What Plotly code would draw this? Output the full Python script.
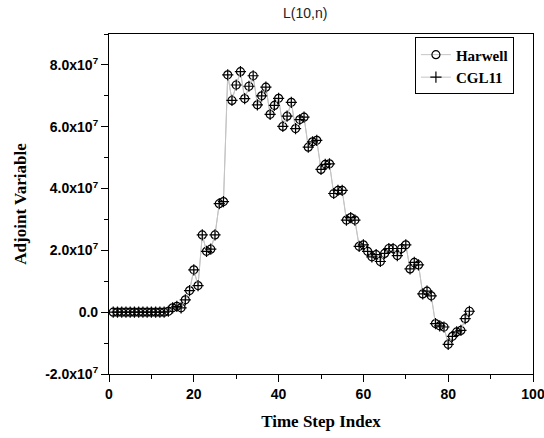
import plotly.graph_objects as go

steps = list(range(1, 86))
harwell = [0.0]*13 + [
    0.03, 0.14, 0.19, 0.14, 0.40, 0.70, 1.37, 0.86, 2.50, 1.97,
    2.04, 2.50, 3.51, 3.58, 7.68, 6.85, 7.35, 7.78, 6.91, 7.31,
    7.65, 6.71, 7.00, 7.28, 6.40, 6.69, 6.92, 6.01, 6.34, 6.79,
    5.94, 6.23, 6.31, 5.34, 5.51, 5.56, 4.62, 4.78, 4.80, 3.84,
    3.94, 3.94, 2.98, 3.06, 2.98, 2.13, 2.18, 1.97, 1.79, 1.86,
    1.64, 1.90, 2.06, 2.06, 1.83, 2.06, 2.18, 1.40, 1.61, 1.53,
    0.59, 0.68, 0.53, -0.37, -0.44, -0.48, -1.04, -0.78, -0.64, -0.59,
    -0.21, 0.03]
harwell = [v * 1e7 for v in harwell]
cgl11 = list(harwell)

ytickvals = [-2e7, 0, 2e7, 4e7, 6e7, 8e7]
yticktext = ["-2.0x10<sup>7</sup>", "0.0", "2.0x10<sup>7</sup>", "4.0x10<sup>7</sup>",
             "6.0x10<sup>7</sup>", "8.0x10<sup>7</sup>"]
xtickvals = [0, 20, 40, 60, 80, 100]

fig = go.Figure()
fig.add_trace(go.Scatter(
    x=steps, y=harwell, name="Harwell", mode="lines+markers",
    line=dict(color="#c4c4c4", width=1),
    marker=dict(symbol="circle-open", size=8, color="black", line=dict(width=1.2, color="black"))))
fig.add_trace(go.Scatter(
    x=steps, y=cgl11, name="CGL11", mode="lines+markers",
    line=dict(color="#c4c4c4", width=1),
    marker=dict(symbol="cross-thin-open", size=8, color="black", line=dict(width=1.2, color="black"))))

axis_common = dict(showline=True, linecolor="black", linewidth=1.2, mirror=True,
                   showgrid=False, zeroline=False, ticks="outside", ticklen=7,
                   tickcolor="black", tickwidth=1.2, automargin=False,
                   ticklabeloverflow="allow",
                   tickfont=dict(family="Liberation Sans", size=14, color="black", weight="bold"))

fig.update_layout(
    width=544, height=438,
    margin=dict(l=109, r=11, t=34, b=64),
    paper_bgcolor="white", plot_bgcolor="white",
    title=dict(text="L(10,n)", x=0.561, xanchor="center", y=1 - 13/438, yanchor="middle",
               yref="container", font=dict(family="Liberation Sans", size=14, color="#222")),
    xaxis=dict(range=[0, 100], tickvals=xtickvals,
               minor=dict(dtick=10, tick0=0, ticks="outside", ticklen=4, tickcolor="black", tickwidth=1.2),
               title=dict(text="Time Step Index", standoff=14,
                          font=dict(family="Liberation Serif", size=17, color="black", weight="bold")),
               **axis_common),
    yaxis=dict(range=[-2e7, 9e7], tickvals=ytickvals, ticktext=yticktext,
               minor=dict(dtick=1e7, tick0=0, ticks="outside", ticklen=4, tickcolor="black", tickwidth=1.2),
               title=dict(text="Adjoint Variable", standoff=14,
                          font=dict(family="Liberation Serif", size=17, color="black", weight="bold")),
               **axis_common),
    legend=dict(x=0.955, xanchor="right", y=0.99, yanchor="top",
                bordercolor="black", borderwidth=1, bgcolor="white",
                font=dict(family="Liberation Serif", size=15, color="black", weight="bold"),
                itemwidth=30, tracegroupgap=0),
    showlegend=True,
)

fig.write_html("out.html")
